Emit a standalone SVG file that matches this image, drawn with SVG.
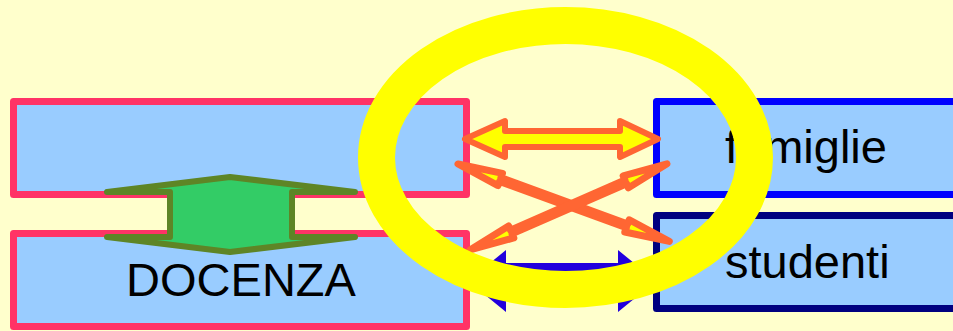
<svg xmlns="http://www.w3.org/2000/svg" width="953" height="331" viewBox="0 0 953 331">
<style>
.box{fill:#99CCFF;stroke-width:7;stroke-linejoin:round}
.lbl{font-family:"Liberation Sans",Arial,sans-serif;font-size:47px;fill:#000}
.orange{stroke:#FF6633;stroke-width:6;stroke-linejoin:round;fill:#FFFF00}
.cross{stroke:#FF6633;stroke-width:7;stroke-linejoin:round;fill:#FFFF00}
</style>
<rect x="0" y="0" width="953" height="331" fill="#FFFFCC"/>
<g id="node-top-left">
<rect class="box" x="13.5" y="101.5" width="453" height="93" stroke="#FF3366"/>
</g>
<g id="node-docenza">
<rect class="box" x="13.5" y="233.5" width="453" height="93" stroke="#FF3366"/>
<text class="lbl" x="241" y="296" text-anchor="middle">DOCENZA</text>
</g>
<g id="node-famiglie">
<rect class="box" x="656.5" y="101.5" width="310" height="93" stroke="#0000FF"/>
<text class="lbl" x="725" y="163">famiglie</text>
</g>
<g id="node-studenti">
<rect class="box" x="656.5" y="215.5" width="310" height="93" stroke="#000080"/>
<text class="lbl" x="725" y="278">studenti</text>
</g>
<g id="connectors">
<path d="M107,192 L230,177 L355,192 L292,192 L292,237 L355,237 L230,252 L107,237 L170,237 L170,192 Z" fill="#33CC66" stroke="#5E8526" stroke-width="6" stroke-linejoin="round"/>
<path d="M468,281 L506,250 L506,263 L618,263 L618,250 L656,281 L618,312 L618,299 L506,299 L506,312 Z" fill="#2200DD"/>
<path class="orange" d="M465,139 L505,121 L505,131 L620,131 L620,121 L658,139 L620,157 L620,147 L505,147 L505,157 Z"/>
<polygon class="cross" transform="translate(458,164) rotate(20.11)" points="0,0 45,-6.5 45,-2 180,-2 180,-6.5 225,0 180,6.5 180,2 45,2 45,6.5"/>
<polygon class="cross" transform="translate(470,250) rotate(-23.61)" points="0,0 45,-6.5 45,-2 170,-2 170,-6.5 215,0 170,6.5 170,2 45,2 45,6.5"/>
</g>
<g id="highlight">
<ellipse cx="565.5" cy="157.5" rx="189" ry="132" fill="none" stroke="#FFFF00" stroke-width="37"/>
</g>
</svg>
